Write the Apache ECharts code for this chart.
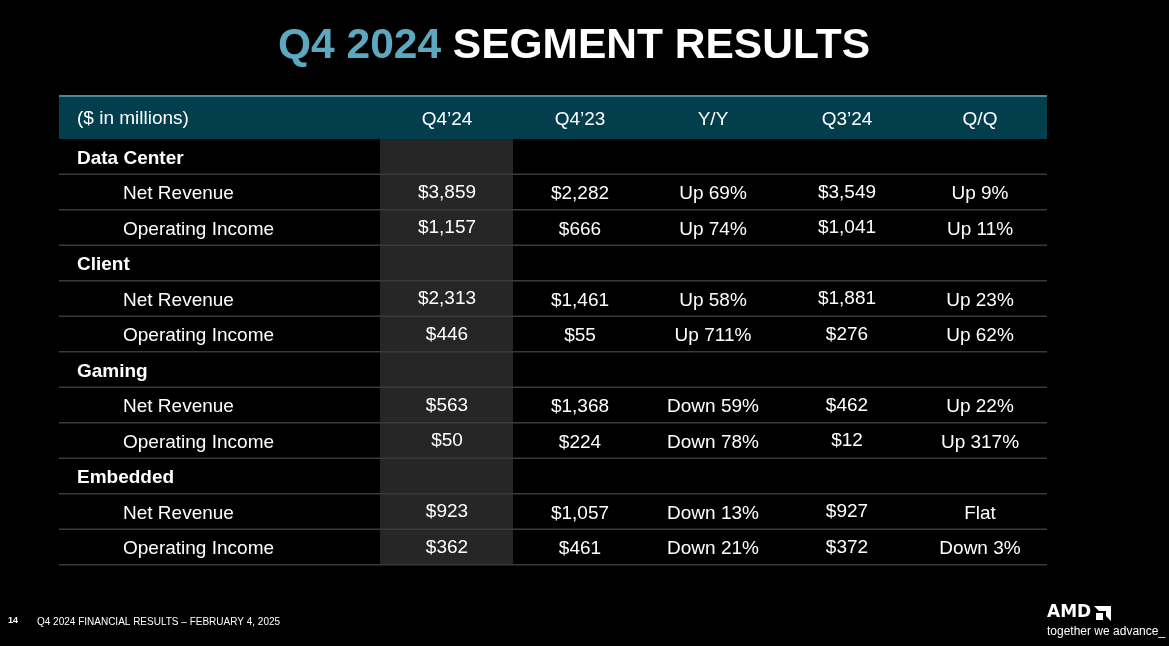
<!DOCTYPE html>
<html><head><meta charset="utf-8">
<script src="https://cdn.jsdelivr.net/npm/echarts@6/dist/echarts.min.js"></script>
<style>html,body{margin:0;background:#000}#c{width:1169px;height:646px}</style>
</head><body><div id="c"></div>
<script>
const columns = ["Q4\u201924","Q4\u201923","Y/Y","Q3\u201924","Q/Q"];
const segments = ["Data Center","Client","Gaming","Embedded"];
const metrics = ["Net Revenue","Operating Income"];
const dataCenter = [["$3,859","$2,282","Up 69%","$3,549","Up 9%"],["$1,157","$666","Up 74%","$1,041","Up 11%"]];
const client = [["$2,313","$1,461","Up 58%","$1,881","Up 23%"],["$446","$55","Up 711%","$276","Up 62%"]];
const gaming = [["$563","$1,368","Down 59%","$462","Up 22%"],["$50","$224","Down 78%","$12","Up 317%"]];
const embedded = [["$923","$1,057","Down 13%","$927","Flat"],["$362","$461","Down 21%","$372","Down 3%"]];
const segData = [dataCenter, client, gaming, embedded];

const F = 'Liberation Sans, Arial, sans-serif';
const colX = [447,580,713,847,980];
const rowH = 35.5, top0 = 139, dy = 2;
const g = [];
g.push({type:'text',left:278,top:25,style:{rich:{a:{fill:'#5ba8bf',fontSize:42.5,fontWeight:'bold',fontFamily:F},b:{fill:'#fff',fontSize:42.5,fontWeight:'bold',fontFamily:F}},text:'{a|Q4 2024}{b| SEGMENT RESULTS}'}});
g.push({type:'rect',shape:{x:59,y:96,width:988,height:43},style:{fill:'#023e4c'}});
g.push({type:'rect',shape:{x:59,y:95,width:988,height:2},style:{fill:'#4a8a98'}});
g.push({type:'text',x:77,y:119,style:{text:'($ in millions)',fill:'#fff',fontSize:19,fontFamily:F,verticalAlign:'middle'}});
columns.forEach((c,i)=>g.push({type:'text',x:colX[i],y:120,style:{text:c,fill:'#fff',fontSize:19,fontFamily:F,align:'center',verticalAlign:'middle'}}));
g.push({type:'rect',shape:{x:380,y:139,width:133,height:rowH*12},style:{fill:'#262626'}});
let r=0;
segments.forEach((s,si)=>{
  const y=top0+r*rowH;
  g.push({type:'text',x:77,y:y+rowH/2+dy,style:{text:s,fill:'#fff',fontSize:19,fontWeight:'bold',fontFamily:F,verticalAlign:'middle'}});
  r++;
  metrics.forEach((m,mi)=>{
    const yy=top0+r*rowH;
    g.push({type:'rect',shape:{x:59,y:yy-1,width:988,height:1.5},style:{fill:'#3a3a3a'}});
    g.push({type:'text',x:123,y:yy+rowH/2+dy,style:{text:m,fill:'#fff',fontSize:19,fontFamily:F,verticalAlign:'middle'}});
    segData[si][mi].forEach((v,ci)=>g.push({type:'text',x:colX[ci],y:yy+rowH/2+dy-(ci===0||ci===3?1.5:0),style:{text:v,fill:'#fff',fontSize:19,fontFamily:F,align:'center',verticalAlign:'middle'}}));
    r++;
  });
  const ye=top0+r*rowH;
  g.push({type:'rect',shape:{x:59,y:ye-1,width:988,height:1.5},style:{fill:'#3a3a3a'}});
});
g.push({type:'text',x:8,y:621,style:{text:'14',fill:'#fff',fontSize:9,fontWeight:'bold',fontFamily:F,verticalAlign:'middle'}});
g.push({type:'text',x:37,y:622,style:{text:'Q4 2024 FINANCIAL RESULTS \u2013 FEBRUARY 4, 2025',fill:'#fff',fontSize:10,fontFamily:F,verticalAlign:'middle'}});
g.push({type:'text',x:1047,y:613,style:{text:'AMD',fill:'#fff',fontSize:17,fontWeight:'bold',fontFamily:'DejaVu Sans',verticalAlign:'middle'}});
g.push({type:'polygon',shape:{points:[[1094,606],[1111,606],[1111,621],[1106,616],[1106,611],[1099,611]]},style:{fill:'#fff'}});
g.push({type:'polygon',shape:{points:[[1096,613],[1103,613],[1103,620],[1096,620]]},style:{fill:'#fff'}});
g.push({type:'text',x:1047,y:632,style:{text:'together we advance_',fill:'#fff',fontSize:12,fontFamily:F,verticalAlign:'middle'}});
echarts.init(document.getElementById('c')).setOption({backgroundColor:'#000',graphic:g});
</script></body></html>
